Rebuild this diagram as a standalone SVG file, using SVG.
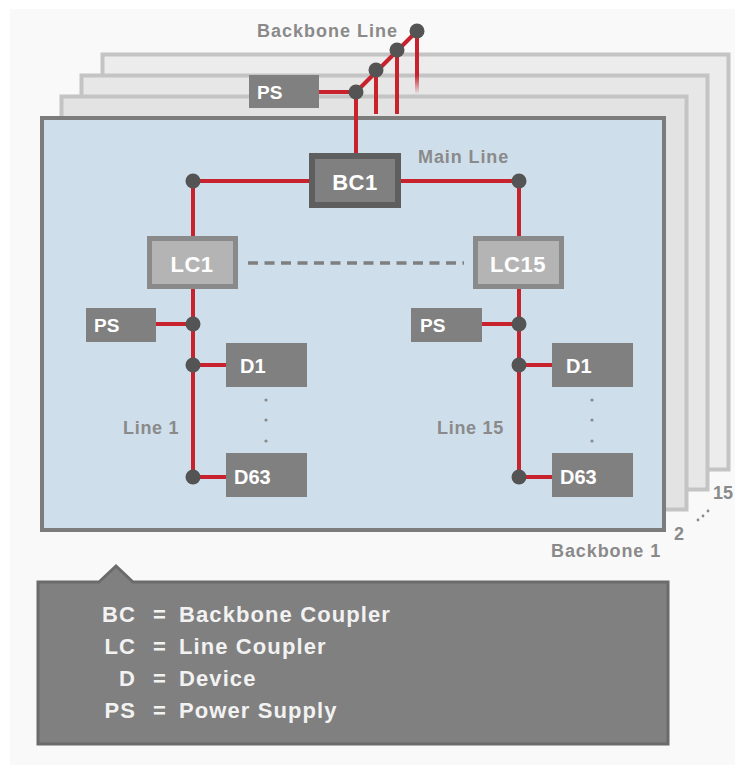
<svg xmlns="http://www.w3.org/2000/svg" width="735" height="765" viewBox="0 0 735 765">
<defs>
<style>
.bg{fill:#f9f9f9}
.back{stroke:#c4c4c4;stroke-width:4}
.main{fill:#cedeea;stroke:#7c7c7c;stroke-width:4}
.red{stroke:#c8232c;stroke-width:4;fill:none}
.dot{fill:#545454}
.box{fill:#808080}
.bc{fill:#808080;stroke:#5e5e5e;stroke-width:6}
.lc{fill:#b4b4b4;stroke:#8a8a8a;stroke-width:5}
.t{font-family:"Liberation Sans",Arial,sans-serif;font-weight:bold;fill:#ffffff}
.lbl{font-family:"Liberation Sans",Arial,sans-serif;font-weight:bold;fill:#8a8a8a;font-size:18px}
.leg{font-family:"Liberation Sans",Arial,sans-serif;font-weight:bold;fill:#f2f2f2;font-size:22px;letter-spacing:1.1px}
.sd{fill:#8a8a8a}
</style>
<linearGradient id="fade" x1="0" y1="0" x2="0" y2="1">
<stop offset="0" stop-color="#c8232c"/>
<stop offset="0.7" stop-color="#c8232c"/>
<stop offset="1" stop-color="#c8232c" stop-opacity="0"/>
</linearGradient>
</defs>
<rect class="bg" x="10" y="9" width="725" height="756"/>

<g id="backbone15">
<rect class="back" x="102.5" y="54.5" width="626" height="415" fill="#ececec"/>
</g>
<g id="backbone3">
<rect class="back" x="81.5" y="75.5" width="626" height="414" fill="#e7e7e7"/>
</g>
<g id="backbone2">
<rect class="back" x="61.5" y="96.5" width="625" height="413" fill="#e3e3e3"/>
</g>
<g id="backbone1">
<rect class="main" x="42" y="118" width="622" height="412"/>
</g>

<g id="connectors">
<line class="red" x1="356" y1="92" x2="417" y2="31"/>
<line class="red" x1="319" y1="92" x2="356" y2="92"/>
<line class="red" x1="356" y1="92" x2="356" y2="154"/>
<line class="red" x1="376" y1="70" x2="376" y2="114"/>
<line class="red" x1="397" y1="50" x2="397" y2="114"/>
<rect x="415" y="31" width="4" height="63" fill="url(#fade)"/>
<polyline class="red" points="193,289 193,181 309,181"/>
<polyline class="red" points="401,181 519,181 519,289"/>
<line x1="248" y1="263" x2="464" y2="263" stroke="#7f7f7f" stroke-width="3.5" stroke-dasharray="10,6.5"/>
<line class="red" x1="193" y1="289" x2="193" y2="477"/>
<line class="red" x1="156" y1="324" x2="193" y2="324"/>
<line class="red" x1="193" y1="365" x2="226" y2="365"/>
<line class="red" x1="193" y1="477" x2="226" y2="477"/>
<line class="red" x1="519" y1="289" x2="519" y2="477"/>
<line class="red" x1="482" y1="324" x2="519" y2="324"/>
<line class="red" x1="519" y1="365" x2="552" y2="365"/>
<line class="red" x1="519" y1="477" x2="552" y2="477"/>
<circle class="dot" cx="417" cy="31" r="7.5"/>
<circle class="dot" cx="397" cy="50" r="7.5"/>
<circle class="dot" cx="376" cy="70" r="7.5"/>
<circle class="dot" cx="356" cy="92" r="7.5"/>
<circle class="dot" cx="193" cy="181" r="7.5"/>
<circle class="dot" cx="519" cy="181" r="7.5"/>
<circle class="dot" cx="193" cy="324" r="7.5"/>
<circle class="dot" cx="193" cy="365" r="7.5"/>
<circle class="dot" cx="193" cy="477" r="7.5"/>
<circle class="dot" cx="519" cy="324" r="7.5"/>
<circle class="dot" cx="519" cy="365" r="7.5"/>
<circle class="dot" cx="519" cy="477" r="7.5"/>
</g>

<g id="ps-top">
<rect class="box" x="249" y="75" width="70" height="33"/>
<text class="t" x="257" y="99" font-size="19">PS</text>
</g>
<g id="bc1">
<rect class="bc" x="312" y="156" width="86" height="49"/>
<text class="t" x="355" y="190" font-size="22" text-anchor="middle" letter-spacing="0.5">BC1</text>
</g>
<g id="lc1">
<rect class="lc" x="149.5" y="238.5" width="86" height="48"/>
<text class="t" x="192" y="272" font-size="22" text-anchor="middle" letter-spacing="0.5">LC1</text>
</g>
<g id="lc15">
<rect class="lc" x="475.5" y="238.5" width="86" height="48"/>
<text class="t" x="518" y="272" font-size="22" text-anchor="middle" letter-spacing="0.5">LC15</text>
</g>
<g id="ps-line1">
<rect class="box" x="86" y="308" width="70" height="34"/>
<text class="t" x="94" y="332" font-size="19">PS</text>
</g>
<g id="d1-line1">
<rect class="box" x="226" y="343" width="81" height="44"/>
<text class="t" x="240" y="373" font-size="20">D1</text>
</g>
<g id="d63-line1">
<rect class="box" x="226" y="453" width="81" height="44"/>
<text class="t" x="234" y="484" font-size="20">D63</text>
</g>
<g id="ps-line15">
<rect class="box" x="411" y="308" width="71" height="34"/>
<text class="t" x="420" y="332" font-size="19">PS</text>
</g>
<g id="d1-line15">
<rect class="box" x="552" y="343" width="81" height="44"/>
<text class="t" x="566" y="373" font-size="20">D1</text>
</g>
<g id="d63-line15">
<rect class="box" x="552" y="453" width="81" height="44"/>
<text class="t" x="560" y="484" font-size="20">D63</text>
</g>

<g id="ellipsis">
<circle class="sd" cx="266" cy="400" r="1.6"/>
<circle class="sd" cx="266" cy="420" r="1.6"/>
<circle class="sd" cx="266" cy="441" r="1.6"/>
<circle class="sd" cx="592" cy="400" r="1.6"/>
<circle class="sd" cx="592" cy="420" r="1.6"/>
<circle class="sd" cx="592" cy="441" r="1.6"/>
<circle class="sd" cx="698" cy="520" r="1.4"/>
<circle class="sd" cx="703" cy="516" r="1.4"/>
<circle class="sd" cx="708" cy="511" r="1.4"/>
</g>

<g id="labels">
<text class="lbl" x="257" y="37" letter-spacing="1">Backbone Line</text>
<text class="lbl" x="418" y="163" letter-spacing="0.9">Main Line</text>
<text class="lbl" x="123" y="434" letter-spacing="0.7">Line 1</text>
<text class="lbl" x="437" y="434" letter-spacing="0.7">Line 15</text>
<text class="lbl" x="551" y="557" letter-spacing="0.9">Backbone 1</text>
<text class="lbl" x="674" y="540">2</text>
<text class="lbl" x="713" y="499">15</text>
</g>

<g id="legend">
<path d="M38,582 L99,582 L116,566 L133,582 L668,582 L668,744 L38,744 Z" fill="#808080" stroke="#6b6b6b" stroke-width="3"/>
<text class="leg" x="136" y="622" text-anchor="end">BC</text>
<text class="leg" x="136" y="654" text-anchor="end">LC</text>
<text class="leg" x="136" y="686" text-anchor="end">D</text>
<text class="leg" x="136" y="718" text-anchor="end">PS</text>
<text class="leg" x="153" y="622">=</text>
<text class="leg" x="153" y="654">=</text>
<text class="leg" x="153" y="686">=</text>
<text class="leg" x="153" y="718">=</text>
<text class="leg" x="179" y="622">Backbone Coupler</text>
<text class="leg" x="179" y="654">Line Coupler</text>
<text class="leg" x="179" y="686">Device</text>
<text class="leg" x="179" y="718">Power Supply</text>
</g>
</svg>
